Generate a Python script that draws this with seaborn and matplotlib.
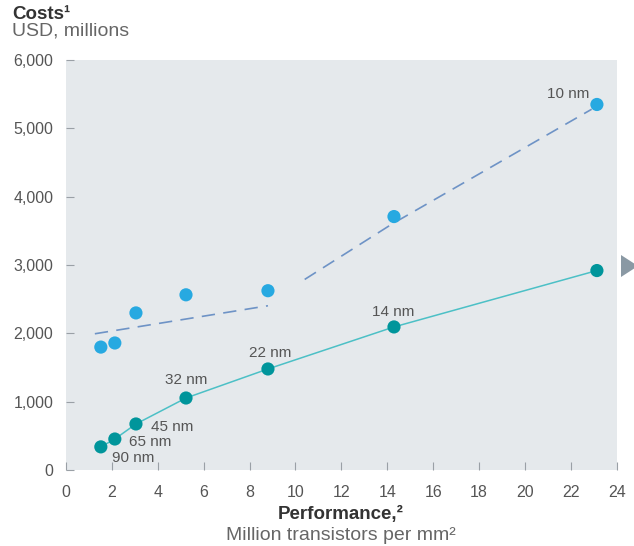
import matplotlib
matplotlib.use("Agg")
import matplotlib.pyplot as plt
from matplotlib.patches import Polygon
import seaborn as sns
import pandas as pd

# Process nodes and their performance (million transistors per mm2)
nodes = ["90 nm", "65 nm", "45 nm", "32 nm", "22 nm", "14 nm", "10 nm"]
performance = [1.52, 2.13, 3.05, 5.23, 8.8, 14.29, 23.13]

# Costs, USD millions
total_cost = [1800, 1860, 2300, 2565, 2625, 3710, 5350]
design_cost = [340, 455, 675, 1055, 1480, 2095, 2920]

# Trend of total cost, drawn as two dashed pieces
trend1_x = [1.26, 8.8]
trend1_y = [1995, 2405]
trend2_x = [10.4, 14.2, 22.9]
trend2_y = [2790, 3600, 5280]

df = pd.DataFrame({"node": nodes, "perf": performance,
                   "total": total_cost, "design": design_cost})

sns.set_theme(style="white")
plt.rcParams["font.family"] = ["Liberation Sans", "DejaVu Sans"]

W, H = 634, 546
fig = plt.figure(figsize=(W / 100, H / 100), dpi=100)
ax = fig.add_axes([0.104, 0.139, 0.869, 0.751])
ax.set_facecolor("#e5e9ec")

dash_col = "#6e93c6"
line_col = "#4cc0c6"
blue = "#27a9e1"
teal = "#00959b"

sns.lineplot(x=trend1_x, y=trend1_y, ax=ax, color=dash_col, lw=1.2,
             linestyle=(0, (8, 5)))
sns.lineplot(x=trend2_x, y=trend2_y, ax=ax, color=dash_col, lw=1.2,
             linestyle=(0, (8, 5)))
sns.lineplot(data=df, x="perf", y="design", ax=ax, color=line_col, lw=1.1)
sns.scatterplot(data=df, x="perf", y="total", ax=ax, color=blue, s=90,
                edgecolor="none", zorder=5)
sns.scatterplot(data=df, x="perf", y="design", ax=ax, color=teal, s=90,
                edgecolor="none", zorder=5)

# Node labels: (dx, dy, ha) relative to the design-cost point
lab_col = "#555555"
offsets = {
    "90 nm": (0.48, -160, "left"),
    "65 nm": (0.61, -45, "left"),
    "45 nm": (0.65, -45, "left"),
    "32 nm": (0.0, 265, "center"),
    "22 nm": (0.08, 235, "center"),
    "14 nm": (-0.05, 220, "center"),
}
for n, px, py in zip(nodes, performance, design_cost):
    if n in offsets:
        dx, dy, ha = offsets[n]
        ax.text(px + dx, py + dy, n, ha=ha, va="center", fontsize=11,
                color=lab_col)
ax.text(performance[-1] - 0.35, total_cost[-1] + 148, "10 nm", ha="right",
        va="center", fontsize=11, color=lab_col)

ax.set_xlim(0, 24)
ax.set_ylim(0, 6000)
ax.set_xticks(range(0, 25, 2))
ax.set_yticks(range(0, 6001, 1000))
ax.set_yticklabels([f"{v:,}" for v in range(0, 6001, 1000)])
ax.tick_params(axis="both", direction="in", length=6, width=0.8,
               color="#9aa0a6", labelsize=11.5, labelcolor="#555555",
               bottom=True, left=True)
ax.tick_params(axis="x", pad=11)
ax.tick_params(axis="y", pad=9)
ax.set_xlabel("")
ax.set_ylabel("")
for s in ax.spines.values():
    s.set_visible(False)

fig.text(0.019, 0.973, "Costs\u00b9", fontsize=13.5, fontweight="bold",
         color="#333333", va="center", ha="left")
fig.text(0.019, 0.943, "USD, millions", fontsize=14, color="#666666",
         va="center", ha="left")
fig.text(0.537, 0.057, "Performance,\u00b2", fontsize=13.5, fontweight="bold",
         color="#333333", va="center", ha="center")
fig.text(0.537, 0.020, "Million transistors per mm\u00b2", fontsize=14,
         color="#666666", va="center", ha="center")

# Arrow marker at the right edge, running past the figure border
tri_px = [(621, 255), (621, 277), (638, 266)]
tri = Polygon([(x / W, 1 - y / H) for x, y in tri_px], closed=True,
              transform=fig.transFigure, facecolor="#8a99a4",
              edgecolor="none")
fig.add_artist(tri)

fig.savefig("out.png", dpi=100)
